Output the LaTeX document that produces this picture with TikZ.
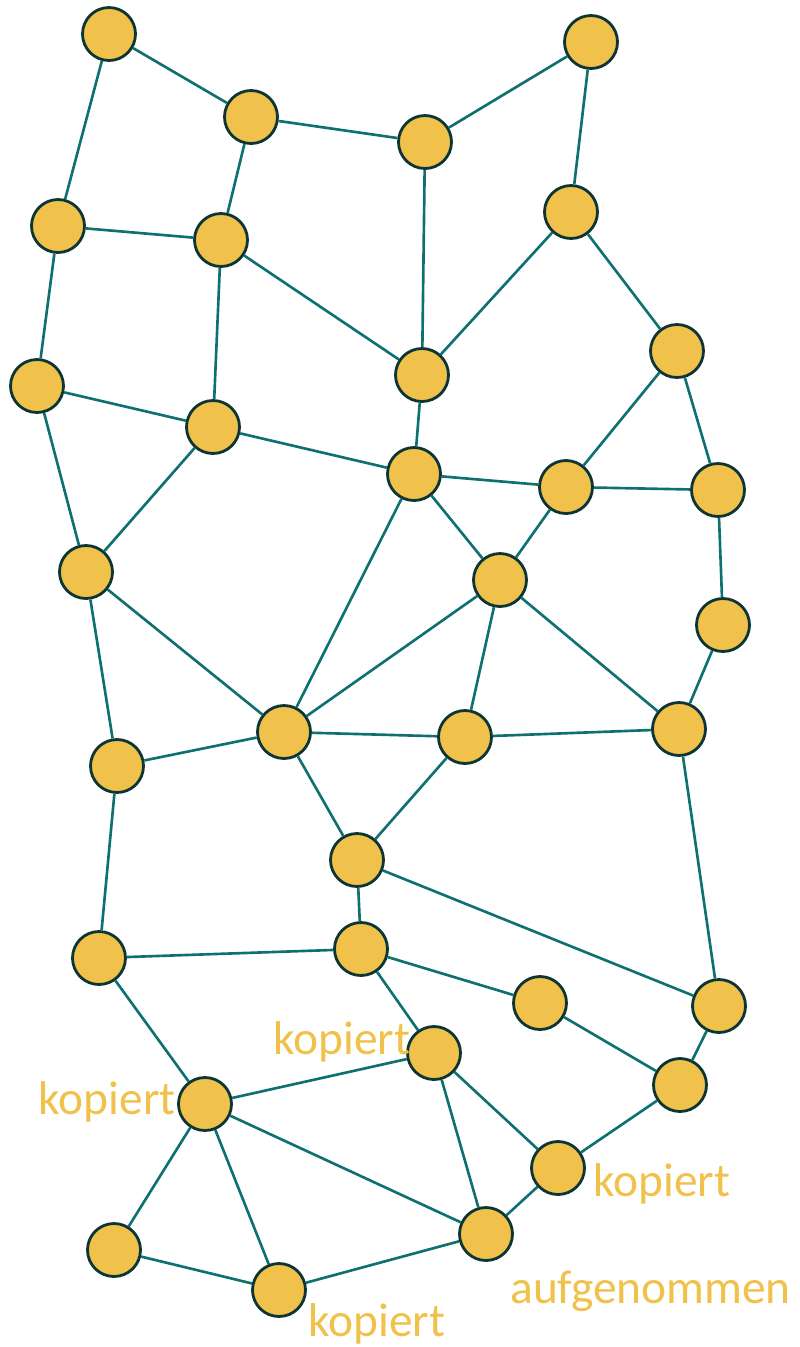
\documentclass[tikz,border=0pt]{standalone}
\usepackage{fontspec}
\setmainfont{Carlito}
\usepackage{tikz}
\usetikzlibrary{positioning,calc}

\definecolor{gold}{HTML}{F0C14B}
\definecolor{teal2}{HTML}{0E7070}
\definecolor{rim}{HTML}{0D3535}

\begin{document}
\begin{tikzpicture}[x=0.02cm, y=-0.02cm, vert/.style = {circle, draw=rim, fill=gold, line width=1.6pt, minimum size=1.06cm, inner sep=0pt}, every edge/.append style={draw=teal2, line width=1.5pt}, lbl/.style={text=gold, font=\fontsize{27}{31}\selectfont, inner sep=0pt}]
\useasboundingbox (0,0) rectangle (800,1347);

\node[vert] (v1) at (109,34) {};
\node[vert] (v2) at (251,117) {};
\node[vert] (v3) at (425,142) {};
\node[vert] (v4) at (591,42) {};
\node[vert] (v5) at (58,226) {};
\node[vert] (v6) at (221,240) {};
\node[vert] (v7) at (571,212) {};
\node[vert] (v8) at (422,375) {};
\node[vert] (v9) at (677,351) {};
\node[vert] (v10) at (37,386) {};
\node[vert] (v11) at (213,427) {};
\node[vert] (v12) at (414,474) {};
\node[vert] (v13) at (566,487) {};
\node[vert] (v14) at (718,490) {};
\node[vert] (v15) at (86,572) {};
\node[vert] (v16) at (500,580) {};
\node[vert] (v17) at (723,625) {};
\node[vert] (v18) at (284,732) {};
\node[vert] (v19) at (465,737) {};
\node[vert] (v20) at (679,729) {};
\node[vert] (v21) at (117,766) {};
\node[vert] (v22) at (357,860) {};
\node[vert] (v23) at (99,958) {};
\node[vert] (v24) at (361,949) {};
\node[vert] (v25) at (540,1003) {};
\node[vert] (v26) at (719,1006) {};
\node[vert] (v27) at (434,1053) {};
\node[vert] (v28) at (680,1085) {};
\node[vert] (v29) at (205,1104) {};
\node[vert] (v30) at (558,1168) {};
\node[vert] (v31) at (114,1250) {};
\node[vert] (v32) at (279,1290) {};
\node[vert] (v33) at (486,1234) {};

\node[lbl, anchor=base west] (k27) at (273,1054) {kopiert};
\node[lbl, anchor=base east] (k29) at (176,1114) {kopiert};
\node[lbl, anchor=base west] (k30) at (593,1196) {kopiert};
\node[lbl, anchor=base west] (a33) at (510,1303) {aufgenommen};
\node[lbl, anchor=base west] (k32) at (308,1336) {kopiert};

\path
    (v1) edge (v2)
    (v1) edge (v5)
    (v2) edge (v3)
    (v2) edge (v6)
    (v3) edge (v4)
    (v3) edge (v8)
    (v4) edge (v7)
    (v5) edge (v6)
    (v5) edge (v10)
    (v6) edge (v8)
    (v6) edge (v11)
    (v7) edge (v8)
    (v7) edge (v9)
    (v8) edge (v12)
    (v9) edge (v13)
    (v9) edge (v14)
    (v10) edge (v11)
    (v10) edge (v15)
    (v11) edge (v12)
    (v11) edge (v15)
    (v12) edge (v13)
    (v12) edge (v16)
    (v12) edge (v18)
    (v13) edge (v14)
    (v13) edge (v16)
    (v14) edge (v17)
    (v15) edge (v18)
    (v15) edge (v21)
    (v16) edge (v18)
    (v16) edge (v19)
    (v16) edge (v20)
    (v17) edge (v20)
    (v18) edge (v19)
    (v18) edge (v21)
    (v18) edge (v22)
    (v19) edge (v20)
    (v19) edge (v22)
    (v20) edge (v26)
    (v21) edge (v23)
    (v22) edge (v24)
    (v22) edge (v26)
    (v23) edge (v24)
    (v23) edge (v29)
    (v24) edge (v25)
    (v24) edge (v27)
    (v25) edge (v28)
    (v26) edge (v28)
    (v27) edge (v29)
    (v27) edge (v30)
    (v27) edge (v33)
    (v28) edge (v30)
    (v29) edge (v31)
    (v29) edge (v32)
    (v29) edge (v33)
    (v30) edge (v33)
    (v31) edge (v32)
    (v32) edge (v33);
\end{tikzpicture}
\end{document}
